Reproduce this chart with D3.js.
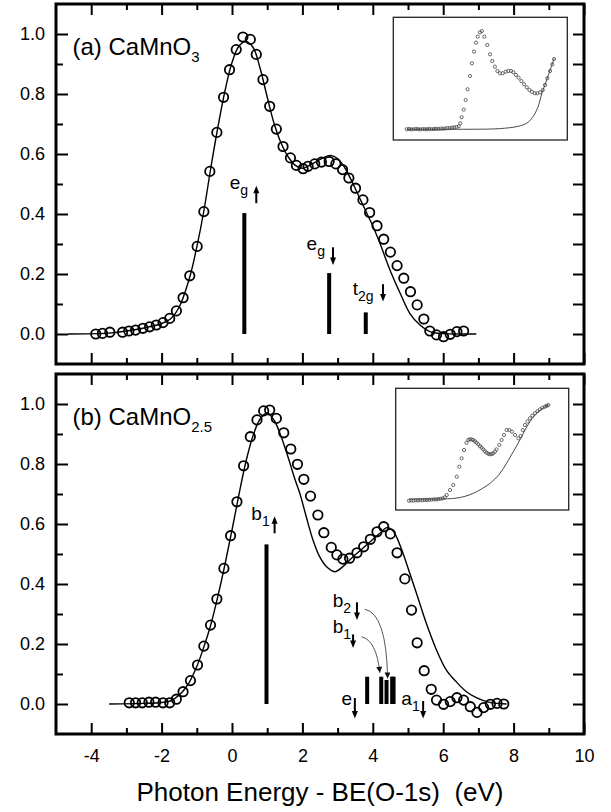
<!DOCTYPE html>
<html>
<head>
<meta charset="utf-8">
<script src="https://cdn.jsdelivr.net/npm/d3@7"></script>
<style>
  html, body { margin: 0; padding: 0; background: #fff; }
  svg { display: block; }
  text { font-family: "Liberation Sans", Arial, Helvetica, sans-serif; fill: #000; }
</style>
</head>
<body>
<svg id="chart" width="611" height="812"></svg>
<script>
// ---------- panel (a) CaMnO3 : measured spectrum (circles) ----------
const energyA = [-3.87,-3.68,-3.47,-3.11,-2.93,-2.74,-2.53,-2.34,-2.15,-1.96,-1.77,-1.58,-1.39,-1.20,-0.99,-0.80,-0.63,-0.43,-0.24,-0.07,0.12,0.31,0.52,0.69,0.88,1.07,1.26,1.45,1.66,1.83,2.02,2.16,2.35,2.54,2.76,2.95,3.14,3.32,3.51,3.72,3.91,4.12,4.31,4.50,4.69,4.88,5.07,5.26,5.45,5.62,5.81,6.01,6.20,6.39,6.58];
const intensityA = [0.0,0.002,0.006,0.006,0.01,0.013,0.019,0.024,0.03,0.038,0.052,0.077,0.121,0.194,0.292,0.408,0.542,0.672,0.789,0.881,0.948,0.99,0.982,0.932,0.848,0.759,0.683,0.625,0.587,0.562,0.551,0.559,0.567,0.573,0.575,0.567,0.548,0.52,0.486,0.447,0.405,0.361,0.316,0.273,0.228,0.186,0.141,0.097,0.05,0.01,-0.003,-0.009,-0.001,0.008,0.01];

// calculated spectrum (solid line)
const fitEnergyA = [-4.66,-3.5,-3.0,-2.5,-2.0,-1.75,-1.5,-1.2,-1.0,-0.8,-0.6,-0.4,-0.2,0.0,0.2,0.4,0.6,0.8,1.0,1.2,1.4,1.6,1.8,2.0,2.2,2.4,2.6,2.8,3.0,3.2,3.4,3.6,3.8,4.0,4.2,4.5,4.8,5.05,5.34,5.62,5.9,6.94];
const fitIntensityA = [0,0.003,0.01,0.02,0.035,0.05,0.09,0.19,0.29,0.41,0.555,0.69,0.81,0.905,0.96,0.975,0.955,0.885,0.79,0.70,0.635,0.59,0.562,0.552,0.562,0.575,0.588,0.595,0.585,0.555,0.51,0.46,0.41,0.36,0.303,0.21,0.13,0.069,0.03,0.008,0.002,0];

// transition sticks
const stickEnergyA = [0.35, 2.76, 3.80];
const stickHeightA = [0.403, 0.203, 0.072];

// ---------- panel (b) CaMnO2.5 ----------
const energyB = [-2.92,-2.74,-2.55,-2.36,-2.17,-1.96,-1.77,-1.58,-1.39,-1.18,-0.98,-0.80,-0.61,-0.43,-0.23,-0.04,0.14,0.33,0.52,0.71,0.90,1.07,1.26,1.47,1.67,1.86,2.04,2.23,2.44,2.61,2.82,2.98,3.15,3.34,3.55,3.74,3.93,4.12,4.31,4.50,4.69,4.91,5.10,5.26,5.46,5.66,5.81,6.01,6.20,6.39,6.58,6.77,6.96,7.15,7.34,7.53,7.72];
const intensityB = [0.004,0.004,0.004,0.006,0.006,0.004,0.004,0.016,0.041,0.078,0.13,0.193,0.263,0.35,0.452,0.561,0.674,0.794,0.891,0.947,0.977,0.98,0.952,0.904,0.85,0.799,0.749,0.693,0.63,0.571,0.522,0.497,0.483,0.486,0.504,0.524,0.549,0.574,0.591,0.567,0.504,0.417,0.313,0.204,0.111,0.049,0.013,-0.001,0.008,0.021,0.013,-0.009,-0.028,-0.012,-0.001,0.002,0.0];

const fitEnergyB = [-3.49,-2.5,-2.0,-1.75,-1.5,-1.25,-1.0,-0.8,-0.6,-0.4,-0.2,0.0,0.2,0.4,0.6,0.8,1.0,1.2,1.4,1.6,1.8,1.92,2.11,2.30,2.49,2.68,2.92,3.15,3.44,3.82,4.2,4.4,4.55,4.67,4.86,5.05,5.24,5.52,5.81,6.09,6.37,6.66,6.94,7.23,7.51,7.80];
const fitIntensityB = [0,0.002,0.005,0.01,0.03,0.065,0.125,0.19,0.265,0.36,0.465,0.58,0.70,0.81,0.895,0.95,0.97,0.945,0.89,0.82,0.745,0.705,0.624,0.547,0.491,0.458,0.441,0.458,0.491,0.53,0.569,0.588,0.58,0.558,0.502,0.436,0.369,0.269,0.18,0.113,0.074,0.041,0.021,0.008,0.002,0];

const stickEnergyB = [0.98, 3.84, 4.24, 4.39, 4.55, 4.59];
const stickHeightB = [0.532, 0.091, 0.091, 0.08, 0.091, 0.091];

// ---------- insets: raw spectra (arbitrary units) ----------
const insetEnergyA = [7.7,9.0,10.3,11.6,12.9,14.2,15.5,16.8,18.1,19.4,20.7,22.0,23.3,24.6,25.9,27.2,28.5,29.8,31.1,32.4,33.7,35.0,36.3,37.6,38.5,39.3,40.5,41.6,42.7,44.1,45.2,46.4,47.5,48.5,49.8,50.9,52.3,54.0,55.6,56.9,58.4,59.8,61.3,62.9,64.6,66.1,67.6,69.0,70.5,72.0,73.6,75.1,76.7,78.2,79.7,81.3,82.8,84.3,85.9,87.2,88.5,90.1,91.4,92.4];
const insetSignalA = [0.0,0.002,-0.002,0.0,0.003,0.0,-0.002,0.002,0.0,0.0,0.003,0.0,0.002,0.004,0.003,0.006,0.005,0.008,0.01,0.012,0.015,0.018,0.022,0.03,0.06,0.122,0.2,0.298,0.407,0.542,0.671,0.79,0.882,0.943,0.987,1.0,0.943,0.858,0.763,0.695,0.637,0.593,0.57,0.57,0.586,0.593,0.593,0.58,0.553,0.525,0.491,0.458,0.427,0.40,0.38,0.366,0.366,0.376,0.40,0.451,0.519,0.593,0.661,0.715];
const insetBgEnergyA = [7.7,50,58,64,69,73,76.7,80,83,85.5,88.5,92.4];
const insetBgA = [0,0,0.003,0.01,0.02,0.035,0.061,0.12,0.22,0.37,0.519,0.72];

const insetEnergyB = [7.7,9.0,10.3,11.6,12.9,14.2,15.5,16.8,18.1,19.4,20.7,22.0,23.3,24.6,25.9,27.2,28.4,29.5,31.4,33.3,35.3,36.8,38.1,39.5,40.9,42.0,42.9,43.9,44.8,45.8,46.7,47.7,48.7,49.6,50.6,51.5,52.5,53.5,54.5,55.5,56.4,57.4,58.3,59.9,61.2,62.6,64.1,65.7,67.2,69.0,70.9,72.2,73.5,74.7,76.2,77.6,79.0,80.5,82.0,83.4,84.8,86.3,87.3,88.2];
const insetSignalB = [-0.014,-0.012,-0.014,-0.01,-0.012,-0.008,-0.01,-0.006,-0.008,-0.004,-0.004,0.0,-0.002,0.002,0.005,0.01,0.02,0.044,0.095,0.147,0.232,0.335,0.421,0.506,0.581,0.61,0.616,0.614,0.609,0.596,0.581,0.564,0.547,0.53,0.513,0.495,0.478,0.468,0.462,0.465,0.472,0.49,0.513,0.558,0.609,0.66,0.712,0.712,0.694,0.66,0.626,0.65,0.71,0.763,0.80,0.832,0.86,0.883,0.905,0.924,0.94,0.951,0.96,0.968];
const insetBgEnergyB = [7.7,30,35,40,44.8,50,54.5,60,64.1,68,71.8,75,77.6,80,82.4,85,88.2];
const insetBgB = [0.003,0.005,0.012,0.03,0.061,0.11,0.164,0.26,0.37,0.49,0.609,0.72,0.797,0.855,0.90,0.935,0.968];

// ---------- tick values ----------
const xMajorTicks = [-4, -2, 0, 2, 4, 6, 8, 10];
const xMinorTicks = [-3, -1, 1, 3, 5, 7, 9];
const yMajorTicks = [0, 0.2, 0.4, 0.6, 0.8, 1.0];
const yMinorTicks = [0.1, 0.3, 0.5, 0.7, 0.9];

// ---------- state labels (text, subscript, spin) in data units ----------
const labelsA = [
  { t: "e", s: "g",  x: -0.065, y: 0.483, ax: 0.69, ay0: 0.436, ay1: 0.494 },
  { t: "e", s: "g",  x: 2.12,   y: 0.28,  ax: 2.87, ay0: 0.289, ay1: 0.230 },
  { t: "t", s: "2g", x: 3.43,   y: 0.13,  ax: 4.29, ay0: 0.166, ay1: 0.108 }
];
const labelsB = [
  { t: "b", s: "1", x: 0.55, y: 0.613,  ax: 1.21, ay0: 0.569, ay1: 0.626 },
  { t: "b", s: "2", x: 2.86, y: 0.324,  ax: 3.55, ay0: 0.339, ay1: 0.280 },
  { t: "b", s: "1", x: 2.86, y: 0.236,  ax: 3.44, ay0: 0.232, ay1: 0.187 },
  { t: "e", s: "",  x: 3.11, y: -0.003, ax: 3.49, ay0: 0.020, ay1: -0.048 },
  { t: "a", s: "1", x: 4.81, y: -0.003, ax: 5.43, ay0: 0.010, ay1: -0.048 }
];
// curved pointers from the b-labels to their sticks
const pointersB = [
  { x0: 3.77, y0: 0.316, cx: 4.39, cy: 0.302, x1: 4.42, y1: 0.085 },
  { x0: 3.68, y0: 0.224, cx: 4.10, cy: 0.213, x1: 4.20, y1: 0.104 }
];

// ---------- layout ----------
const svg = d3.select("#chart");
svg.append("rect").attr("width", 611).attr("height", 812).attr("fill", "#fff");

const x = d3.scaleLinear().domain([-5, 10]).range([56, 584]);

const panels = [
  { top: 4,   bottom: 364, title: "(a) CaMnO", sub: "3",
    energy: energyA, intensity: intensityA, fitE: fitEnergyA, fitI: fitIntensityA,
    stickE: stickEnergyA, stickH: stickHeightA, labels: labelsA, pointers: [],
    inset: { x0: 393.3, x1: 567.3, y0: 17.3, y1: 140,
             e: insetEnergyA, s: insetSignalA, be: insetBgEnergyA, b: insetBgA },
    bottomLabels: false },
  { top: 374, bottom: 734, title: "(b) CaMnO", sub: "2.5",
    energy: energyB, intensity: intensityB, fitE: fitEnergyB, fitI: fitIntensityB,
    stickE: stickEnergyB, stickH: stickHeightB, labels: labelsB, pointers: pointersB,
    inset: { x0: 395.7, x1: 568.7, y0: 388.3, y1: 510,
             e: insetEnergyB, s: insetSignalB, be: insetBgEnergyB, b: insetBgB },
    bottomLabels: true }
];

// arrowhead for curved pointers
svg.append("defs").append("marker")
  .attr("id", "ptr").attr("viewBox", "0 0 10 10")
  .attr("refX", 10).attr("refY", 5)
  .attr("markerWidth", 9).attr("markerHeight", 6)
  .attr("markerUnits", "userSpaceOnUse")
  .attr("orient", "auto")
  .append("path").attr("d", "M0,0L10,5L0,10Z").attr("fill", "#111");

// vertical spin arrow with a filled head
function spinArrow(g, px, py0, py1) {
  const dir = Math.sign(py1 - py0);   // +1 points down, -1 points up
  const head = 7.5, hw = 3;
  g.append("line")
    .attr("x1", px).attr("y1", py0).attr("x2", px).attr("y2", py1 - dir * head * 0.6)
    .attr("stroke", "#000").attr("stroke-width", 2);
  g.append("path")
    .attr("d", `M${px},${py1}L${px - hw},${py1 - dir * head}L${px + hw},${py1 - dir * head}Z`)
    .attr("fill", "#000");
}

function styleAxis(g) {
  g.select(".domain").remove();
  g.selectAll(".tick line").attr("stroke", "#000").attr("stroke-width", 2);
  g.selectAll(".tick text")
    .style("font-family", '"Liberation Sans", Arial, Helvetica, sans-serif')
    .style("font-size", "18px").attr("fill", "#000");
  g.attr("font-size", null).attr("font-family", null);
}

panels.forEach(p => {
  const y = d3.scaleLinear().domain([-0.1, 1.1]).range([p.bottom, p.top]);
  const g = svg.append("g");

  // inset: raw spectrum and its background
  const ins = p.inset;
  const ix = d3.scaleLinear().domain([0, 100]).range([ins.x0, ins.x1]);
  const iy = d3.scaleLinear().domain([-0.11, 1.14]).range([ins.y1, ins.y0]);
  g.append("rect")
    .attr("x", ins.x0).attr("y", ins.y0)
    .attr("width", ins.x1 - ins.x0).attr("height", ins.y1 - ins.y0)
    .attr("fill", "#fff").attr("stroke", "#222").attr("stroke-width", 1.3);
  g.append("path")
    .datum(d3.zip(ins.be, ins.b))
    .attr("d", d3.line().x(d => ix(d[0])).y(d => iy(d[1])).curve(d3.curveCatmullRom.alpha(0.5)))
    .attr("fill", "none").attr("stroke", "#333").attr("stroke-width", 0.9);
  g.append("g").selectAll("circle")
    .data(d3.zip(ins.e, ins.s)).join("circle")
    .attr("cx", d => ix(d[0])).attr("cy", d => iy(d[1])).attr("r", 1.6)
    .attr("fill", "none").attr("stroke", "#444").attr("stroke-width", 0.8);

  // calculated spectrum
  g.append("path")
    .datum(d3.zip(p.fitE, p.fitI))
    .attr("d", d3.line().x(d => x(d[0])).y(d => y(d[1])).curve(d3.curveCatmullRom.alpha(0.5)))
    .attr("fill", "none").attr("stroke", "#000").attr("stroke-width", 1.4);

  // measured spectrum
  g.append("g").selectAll("circle")
    .data(d3.zip(p.energy, p.intensity)).join("circle")
    .attr("cx", d => x(d[0])).attr("cy", d => y(d[1])).attr("r", 4.7)
    .attr("fill", "none").attr("stroke", "#000").attr("stroke-width", 1.8);

  // transition sticks
  g.append("g").selectAll("rect")
    .data(d3.zip(p.stickE, p.stickH)).join("rect")
    .attr("x", d => x(d[0]) - 2).attr("width", 4)
    .attr("y", d => y(d[1])).attr("height", d => y(0) - y(d[1]))
    .attr("fill", "#000");

  // state labels with spin arrows
  p.labels.forEach(l => {
    const t = g.append("text").attr("x", x(l.x)).attr("y", y(l.y)).style("font-size", "19px");
    t.append("tspan").text(l.t);
    if (l.s) t.append("tspan").attr("dy", 6).style("font-size", "14px").text(l.s);
    spinArrow(g, x(l.ax), y(l.ay0), y(l.ay1));
  });

  // curved pointers
  p.pointers.forEach(c => {
    g.append("path")
      .attr("d", `M${x(c.x0)},${y(c.y0)}Q${x(c.cx)},${y(c.cy)} ${x(c.x1)},${y(c.y1)}`)
      .attr("fill", "none").attr("stroke", "#444").attr("stroke-width", 0.9)
      .attr("marker-end", "url(#ptr)");
  });

  // panel title
  const title = g.append("text").attr("x", 72.5).attr("y", p.top + 51).style("font-size", "24px");
  title.append("tspan").text(p.title);
  title.append("tspan").attr("dy", 7).style("font-size", "15px").text(p.sub);

  // axes: ticks point inward on all four sides
  const axB1 = g.append("g").attr("transform", `translate(0,${p.bottom})`)
    .call(d3.axisBottom(x).tickValues(xMajorTicks).tickSize(-11).tickPadding(15)
      .tickFormat(p.bottomLabels ? (d => String(d)) : ""));
  styleAxis(axB1);
  const axB2 = g.append("g").attr("transform", `translate(0,${p.bottom})`)
    .call(d3.axisBottom(x).tickValues(xMinorTicks).tickSize(-6).tickFormat(""));
  styleAxis(axB2);
  const axT1 = g.append("g").attr("transform", `translate(0,${p.top})`)
    .call(d3.axisTop(x).tickValues(xMajorTicks).tickSize(-11).tickFormat(""));
  styleAxis(axT1);
  const axT2 = g.append("g").attr("transform", `translate(0,${p.top})`)
    .call(d3.axisTop(x).tickValues(xMinorTicks).tickSize(-6).tickFormat(""));
  styleAxis(axT2);
  const axL1 = g.append("g").attr("transform", "translate(56,0)")
    .call(d3.axisLeft(y).tickValues(yMajorTicks).tickSize(-12).tickPadding(11)
      .tickFormat(d3.format(".1f")));
  styleAxis(axL1);
  const axL2 = g.append("g").attr("transform", "translate(56,0)")
    .call(d3.axisLeft(y).tickValues(yMinorTicks).tickSize(-7).tickFormat(""));
  styleAxis(axL2);
  const axR = g.append("g").attr("transform", "translate(584,0)")
    .call(d3.axisRight(y).tickValues(yMajorTicks.concat(yMinorTicks)).tickSize(-11).tickFormat(""));
  styleAxis(axR);

  // frame
  g.append("rect")
    .attr("x", 56).attr("y", p.top).attr("width", 584 - 56).attr("height", p.bottom - p.top)
    .attr("fill", "none").attr("stroke", "#000").attr("stroke-width", 3);
});

// x-axis title
svg.append("text")
  .attr("x", 320).attr("y", 801)
  .attr("text-anchor", "middle")
  .style("font-size", "26px")
  .style("white-space", "pre")
  .text("Photon Energy - BE(O-1s)  (eV)");
</script>
</body>
</html>
